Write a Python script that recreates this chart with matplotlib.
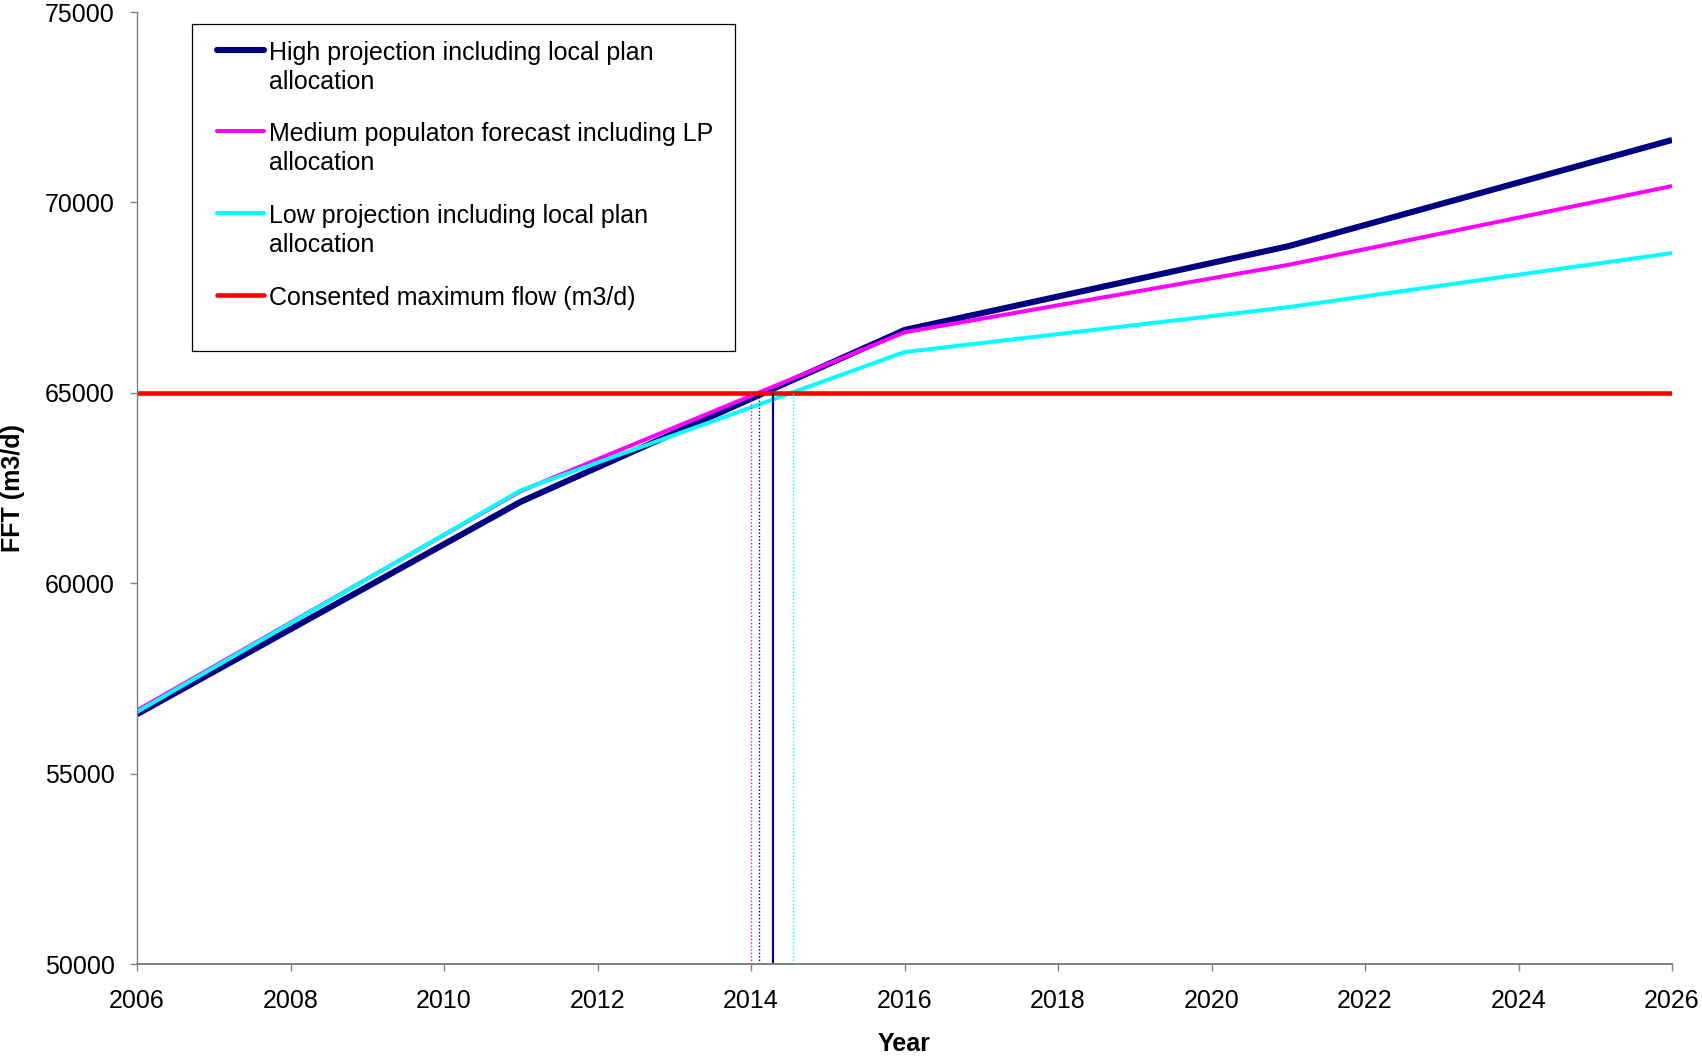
import numpy as np
import matplotlib.pyplot as plt
from matplotlib.lines import Line2D
from matplotlib.patches import Rectangle

plt.rcParams['font.family'] = ['Liberation Sans', 'DejaVu Sans']

# FFT projections (m3/d) at the five-yearly points
years = [2006, 2011, 2016, 2021, 2026]
high = [56560, 62140, 66650, 68850, 71640]
medium = [56660, 62420, 66590, 68360, 70430]
low = [56620, 62440, 66070, 67250, 68670]
consented = 65000

# years where each projection reaches the consented flow
cross_medium = 2014.0
cross_high_dotted = 2014.1
cross_high = 2014.28
cross_low = 2014.55

labels = ["High projection including local plan\nallocation",
          "Medium populaton forecast including LP\nallocation",
          "Low projection including local plan\nallocation",
          "Consented maximum flow (m3/d)"]
colors = ["#000080", "#FF00FF", "#00FFFF", "#FF0000"]
widths = [4.4, 2.9, 2.9, 3.3]

fig = plt.figure(figsize=(17.02, 10.56), dpi=100)
ax = fig.add_axes([0.0805, 0.0871, 0.9019, 0.9015])

ax.plot(years, high, color=colors[0], lw=widths[0], solid_capstyle='butt')
ax.plot(years, medium, color=colors[1], lw=widths[1], solid_capstyle='butt')
ax.plot(years, low, color=colors[2], lw=widths[2], solid_capstyle='butt')
ax.axhline(consented, color=colors[3], lw=widths[3])

# drop lines from the crossing points
ax.vlines(cross_medium, 50000, consented, colors=colors[1], lw=1.0, linestyles=(0, (1, 1.5)))
ax.vlines(cross_high_dotted, 50000, consented, colors=colors[0], lw=1.0, linestyles=(0, (1, 1.5)))
ax.vlines(cross_high, 50000, consented, colors=colors[0], lw=1.6)
ax.vlines(cross_low, 50000, consented, colors=colors[2], lw=1.0, linestyles=(0, (1, 1.5)))

ax.set_xlim(2006, 2026)
ax.set_ylim(50000, 75000)
ax.set_xticks(np.arange(2006, 2027, 2))
ax.set_yticks(np.arange(50000, 75001, 5000))

for side in ['top', 'right']:
    ax.spines[side].set_visible(False)
ax.spines['left'].set_color('#808080')
ax.spines['bottom'].set_color('#808080')
ax.spines['left'].set_linewidth(1.0)
ax.spines['bottom'].set_linewidth(1.4)
ax.tick_params(axis='both', direction='out', length=5, width=1.0, color='#808080',
               labelsize=18, pad=11)
ax.tick_params(axis='x', pad=13)

ax.set_xlabel("Year", fontsize=18, fontweight='bold', labelpad=14)
ax.set_ylabel("FFT (m3/d)", fontsize=18, fontweight='bold', labelpad=14)

# legend box with handles next to the first line of each label
ax.add_patch(Rectangle((0.0358, 0.6439), 0.3538, 0.3435, transform=ax.transAxes,
                       facecolor='white', edgecolor='black', lw=0.9, zorder=5))
rows = [0.960, 0.875, 0.789, 0.703]
for y, lab, c, w in zip(rows, labels, colors, widths):
    ax.add_line(Line2D([0.0521, 0.0827], [y, y], transform=ax.transAxes,
                       color=c, lw=w, solid_capstyle='round', zorder=6))
    ax.text(0.0860, y + 0.0095, lab, transform=ax.transAxes, fontsize=18,
            va='top', ha='left', linespacing=1.28, zorder=6)

fig.savefig("out.png", dpi=100)
